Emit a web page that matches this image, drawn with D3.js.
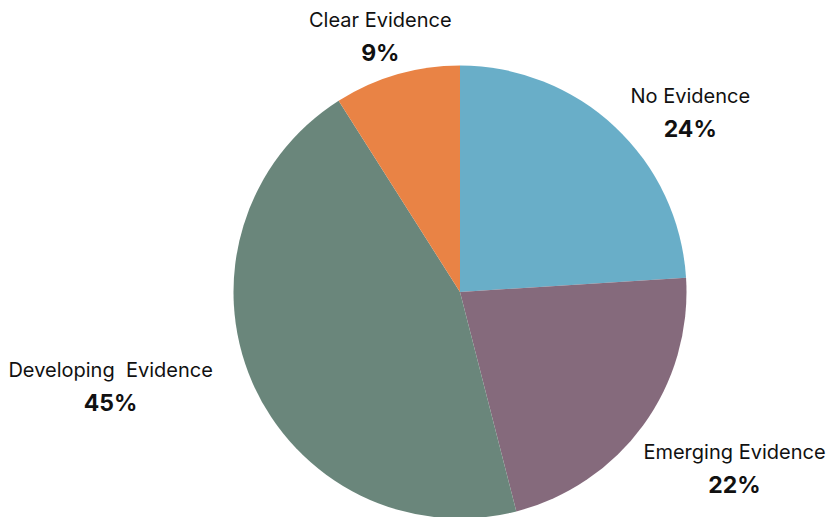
<!DOCTYPE html>
<html><head><meta charset="utf-8">
<script src="https://cdn.jsdelivr.net/npm/d3@7"></script>
<style>
html,body{margin:0;padding:0;background:#fff;}
text{font-family:Inter,"Noto Sans",sans-serif;fill:#111;white-space:pre;}
</style></head>
<body>
<svg id="chart" width="829" height="517"></svg>
<script>
const categories = ["No Evidence", "Emerging Evidence", "Developing  Evidence", "Clear Evidence"];
const values = [24, 22, 45, 9];
const colors = ["#69AEC8", "#856A7C", "#6A867B", "#E98345"];
// label placement nudges (layout only), relative to outer-arc centroid
const labelNudge = [[42, 11], [52, 5], [-97, -24], [-3, -1]];

const W = 829, H = 517, cx = 460, cy = 292, r = 226.5;
const svg = d3.select("#chart");
const g = svg.append("g").attr("transform", `translate(${cx},${cy})`);

const data = categories.map((c, i) => ({name: c, value: values[i], color: colors[i], nudge: labelNudge[i]}));
const pie = d3.pie().value(d => d.value).sort(null);
const arcs = pie(data);
const arc = d3.arc().innerRadius(0).outerRadius(r);
const labelArc = d3.arc().innerRadius(275).outerRadius(275);

g.selectAll("path.slice").data(arcs).join("path")
  .attr("class", "slice")
  .attr("d", arc)
  .attr("fill", d => d.data.color);

const lab = g.selectAll("g.lab").data(arcs).join("g")
  .attr("class", "lab")
  .attr("transform", d => {
    const [x, y] = labelArc.centroid(d);
    return `translate(${x + d.data.nudge[0]},${y + d.data.nudge[1]})`;
  });
lab.append("text").attr("text-anchor", "middle").attr("y", 0)
  .style("font-size", "20px").text(d => d.data.name);
lab.append("text").attr("text-anchor", "middle").attr("y", 34)
  .style("font-size", "23px").style("font-weight", "700")
  .text(d => d.data.value + "%");
</script>
</body></html>
